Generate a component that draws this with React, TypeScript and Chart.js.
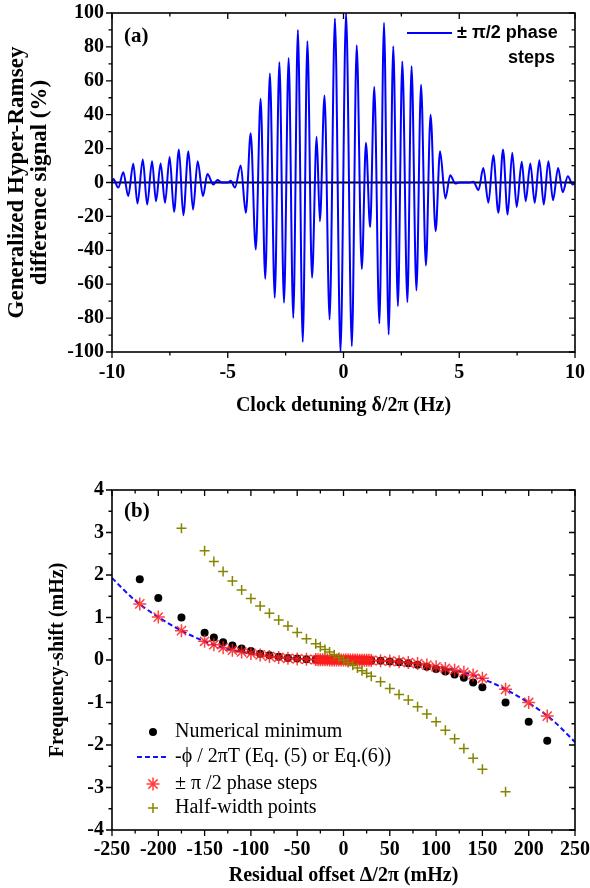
import React, { useEffect, useRef } from 'react';
import { Chart, registerables } from 'chart.js';

Chart.register(...registerables);

const SERIF = '"Liberation Serif", "Times New Roman", serif';
const SANS = '"Liberation Sans", Arial, sans-serif';

// ---------- Panel (a): generalized Hyper-Ramsey difference signal ----------
const signalX = [
  -10, -9.94, -9.73, -9.51, -9.3, -9.08, -8.9, -8.67, -8.48, -8.27, -8.1, -7.9, -7.71, -7.51, -7.32,
  -7.11, -6.92, -6.7, -6.5, -6.3, -6.07, -5.88, -5.62, -5.45, -5.25, -5.0, -4.87, -4.69, -4.44, -4.22,
  -4.01, -3.79, -3.58, -3.38, -3.18, -2.97, -2.77, -2.57, -2.37, -2.17, -1.97, -1.76, -1.56, -1.36,
  -1.16, -1.02, -0.82, -0.6, -0.37, -0.13, 0.11, 0.36, 0.57, 0.79, 0.97, 1.15, 1.33, 1.55, 1.75, 1.95,
  2.15, 2.35, 2.54, 2.76, 2.94, 3.15, 3.35, 3.56, 3.76, 3.98, 4.17, 4.4, 4.61, 4.83, 5.0, 5.45, 5.61,
  5.83, 6.04, 6.26, 6.47, 6.69, 6.89, 7.09, 7.29, 7.48, 7.7, 7.87, 8.07, 8.26, 8.46, 8.65, 8.85, 9.05,
  9.27, 9.47, 9.69, 9.9, 10,
];
const signalY = [
  0.5, 2, -3, 6, -8, 11, -12.4, 13.5, -13, 12.6, -11, 11.2, -12, 15, -17.3,
  19.5, -19.3, 18.5, -16, 12.6, -8, 5, -1.2, 1.5, 0, 0, 1, -3, 10, -17.9,
  29, -39.5, 49.4, -56.8, 64.3, -68, 71, -71, 73.4, -79.9, 90, -94.1, 83.4, -56.2,
  27, -22.8, 51.3, -80.8, 96.8, -100, 100, -96.6, 81, -51, 23.4, -26.3, 56.4, -83.2, 94.2, -89.7,
  80.4, -73, 71.4, -70.6, 68.6, -63.7, 57.6, -49, 40, -28.7, 18.5, -9.4, 4.3, -0.6, 0, 0, 0.5,
  -4.5, 8.6, -12, 16.1, -17.9, 19.5, -18.9, 17.5, -14.4, 12.2, -11, 11.2, -12, 13.2, -13, 12.6, -10.4,
  8.6, -5.7, 3.7, -1.2, 0,
];
const zeroLineX = [-10, 10];
const zeroLineY = [0, 0];

// ---------- Panel (b): frequency shift vs residual offset ----------
const offsetX = [
  -220, -200, -175, -150, -140, -130, -120, -110, -100, -90, -80, -70, -60, -50, -40,
  -30, -27.5, -25, -22.5, -20, -17.5, -15, -12.5, -10, -7.5, -5, -2.5, 0, 2.5, 5, 7.5, 10,
  12.5, 15, 17.5, 20, 22.5, 25, 27.5, 30,
  40, 50, 60, 70, 80, 90, 100, 110, 120, 130, 140, 150, 175, 200, 220,
];
const numericalMinY = [
  1.9, 1.46, 1.0, 0.64, 0.53, 0.42, 0.34, 0.27, 0.21, 0.15, 0.11, 0.075, 0.05, 0.035, 0.02,
  0.012, 0.01, 0.008, 0.006, 0.005, 0.004, 0.003, 0.002, 0.001, 0.001, 0, 0, 0, 0, 0, -0.001, -0.001,
  -0.002, -0.003, -0.004, -0.005, -0.006, -0.008, -0.01, -0.012,
  -0.02, -0.035, -0.05, -0.075, -0.11, -0.16, -0.21, -0.27, -0.34, -0.42, -0.53, -0.64, -1.0, -1.45, -1.9,
];
const phaseStepY = [
  1.32, 1.01, 0.69, 0.44, 0.36, 0.29, 0.23, 0.19, 0.155, 0.12, 0.085, 0.06, 0.04, 0.025, 0.015,
  0.01, 0.008, 0.006, 0.005, 0.004, 0.003, 0.002, 0.001, 0.001, 0, 0, 0, 0, 0, 0, 0, -0.001,
  -0.001, -0.002, -0.003, -0.004, -0.005, -0.006, -0.008, -0.01,
  -0.015, -0.025, -0.04, -0.06, -0.085, -0.12, -0.16, -0.2, -0.24, -0.29, -0.35, -0.43, -0.69, -1.0, -1.32,
];
const halfWidthX = [
  -175, -150, -140, -130, -120, -110, -100, -90, -80, -70, -60, -50, -40,
  -30, -25, -20, -15, -10, -5, 0, 5, 10, 15, 20, 25, 30,
  40, 50, 60, 70, 80, 90, 100, 110, 120, 130, 140, 150, 175,
];
const halfWidthY = [
  3.1, 2.57, 2.32, 2.08, 1.86, 1.65, 1.45, 1.27, 1.1, 0.94, 0.8, 0.65, 0.5,
  0.38, 0.31, 0.25, 0.19, 0.125, 0.06, 0, -0.06, -0.125, -0.19, -0.25, -0.31, -0.38,
  -0.51, -0.67, -0.81, -0.94, -1.1, -1.27, -1.45, -1.65, -1.85, -2.08, -2.31, -2.57, -3.1,
];
const analyticX = [-250, -225, -200, -175, -150, -125, -100, -75, -50, -25, 0, 25, 50, 75, 100, 125, 150, 175, 200, 225, 250];
const analyticY = [1.93, 1.4, 1.01, 0.69, 0.44, 0.26, 0.15, 0.07, 0.03, 0.005, 0, -0.005, -0.03, -0.07, -0.15, -0.26, -0.44, -0.69, -1.01, -1.4, -1.93];

const pts = (xs: number[], ys: number[]) => xs.map((x, i) => ({ x, y: ys[i] }));

// frame with major/minor ticks on all four sides
const framePlugin = {
  id: 'frame',
  afterDatasetsDraw(chart: any, _args: any, opts: any) {
    const { ctx, chartArea } = chart;
    const { left, right, top, bottom } = chartArea;
    const xs = chart.scales.x;
    const ys = chart.scales.y;
    ctx.save();
    ctx.strokeStyle = '#000';
    ctx.lineWidth = 1.6;
    ctx.strokeRect(left, top, right - left, bottom - top);
    ctx.lineWidth = 1.3;
    const nx = Math.round((xs.max - xs.min) / opts.xMinor);
    for (let i = 0; i <= nx; i++) {
      const p = xs.getPixelForValue(xs.min + i * opts.xMinor);
      const L = i % 2 === 0 ? 6 : 3.5;
      ctx.beginPath();
      ctx.moveTo(p, bottom);
      ctx.lineTo(p, bottom + L);
      ctx.moveTo(p, top);
      ctx.lineTo(p, top + L);
      ctx.stroke();
    }
    const ny = Math.round((ys.max - ys.min) / opts.yMinor);
    for (let i = 0; i <= ny; i++) {
      const p = ys.getPixelForValue(ys.min + i * opts.yMinor);
      const L = i % 2 === 0 ? 6 : 3.5;
      ctx.beginPath();
      ctx.moveTo(left, p);
      ctx.lineTo(left - L, p);
      ctx.moveTo(right, p);
      ctx.lineTo(right - L, p);
      ctx.stroke();
    }
    ctx.restore();
  },
};

// panel label + custom legends
const annotPlugin = {
  id: 'annot',
  afterDraw(chart: any, _args: any, opts: any) {
    const { ctx } = chart;
    ctx.save();
    ctx.fillStyle = '#000';
    ctx.textBaseline = 'middle';
    ctx.textAlign = 'left';
    ctx.font = `bold 21px ${SERIF}`;
    ctx.fillText(opts.panel.text, opts.panel.x, opts.panel.y);
    for (const it of opts.items || []) {
      const y = it.y;
      ctx.save();
      if (it.kind === 'line' || it.kind === 'dash') {
        ctx.strokeStyle = it.color;
        ctx.lineWidth = 2;
        if (it.kind === 'dash') ctx.setLineDash([5, 3]);
        ctx.beginPath();
        ctx.moveTo(it.x1, y);
        ctx.lineTo(it.x2, y);
        ctx.stroke();
      } else if (it.kind === 'dot') {
        ctx.fillStyle = it.color;
        ctx.beginPath();
        ctx.arc(it.sx, y, 4, 0, Math.PI * 2);
        ctx.fill();
      } else if (it.kind === 'star') {
        ctx.strokeStyle = it.color;
        ctx.lineWidth = 1.5;
        ctx.beginPath();
        for (let k = 0; k < 4; k++) {
          const a = (k * Math.PI) / 4;
          ctx.moveTo(it.sx - Math.cos(a) * 6.5, y - Math.sin(a) * 6.5);
          ctx.lineTo(it.sx + Math.cos(a) * 6.5, y + Math.sin(a) * 6.5);
        }
        ctx.stroke();
      } else if (it.kind === 'cross') {
        ctx.strokeStyle = it.color;
        ctx.lineWidth = 1.5;
        ctx.beginPath();
        ctx.moveTo(it.sx - 5, y);
        ctx.lineTo(it.sx + 5, y);
        ctx.moveTo(it.sx, y - 5);
        ctx.lineTo(it.sx, y + 5);
        ctx.stroke();
      }
      ctx.restore();
      ctx.fillStyle = '#000';
      ctx.font = it.font;
      ctx.textAlign = 'left';
      ctx.fillText(it.text, it.tx, y);
      if (it.text2) {
        ctx.textAlign = 'right';
        ctx.fillText(it.text2, it.t2x, it.t2y);
      }
    }
    ctx.restore();
  },
};

const tickFont = { family: SERIF, size: 20, weight: 'bold' as const };
const titleFont = { family: SERIF, size: 20, weight: 'bold' as const };

const fitX = (h: number) => (s: any) => {
  s.height = h;
  s.paddingLeft = 0;
  s.paddingRight = 0;
};
const fitY = (w: number) => (s: any) => {
  s.width = w;
  s.paddingTop = 0;
  s.paddingBottom = 0;
};

function makeConfigA(): any {
  return {
    type: 'line',
    data: {
      datasets: [
        {
          data: pts(signalX, signalY),
          borderColor: '#0000ff',
          borderWidth: 2,
          pointRadius: 0,
          cubicInterpolationMode: 'monotone',
          order: 1,
        },
        {
          data: pts(zeroLineX, zeroLineY),
          borderColor: '#000',
          borderWidth: 2,
          pointRadius: 0,
          order: 2,
        },
      ],
    },
    options: {
      animation: false,
      responsive: false,
      devicePixelRatio: 1,
      layout: { padding: { top: 13, right: 15, left: 0, bottom: 0 } },
      plugins: {
        legend: { display: false },
        tooltip: { enabled: false },
        frame: { xMinor: 2.5, yMinor: 10 },
        annot: {
          panel: { text: '(a)', x: 124, y: 37 },
          items: [
            {
              kind: 'line', color: '#0000ff', x1: 407, x2: 452, y: 33,
              text: '± π/2 phase', tx: 457, font: `bold 18px ${SANS}`,
              text2: 'steps', t2x: 555, t2y: 58,
            },
          ],
        },
      },
      scales: {
        x: {
          type: 'linear',
          min: -10,
          max: 10,
          grid: { display: false, drawTicks: false },
          border: { display: false },
          ticks: { stepSize: 5, font: tickFont, color: '#000', padding: 9, maxRotation: 0 },
          title: { display: true, text: 'Clock detuning δ/2π (Hz)', font: titleFont, color: '#000', padding: { top: 0, bottom: 22 } },
          afterFit: fitX(88),
        },
        y: {
          type: 'linear',
          min: -100,
          max: 100,
          grid: { display: false, drawTicks: false },
          border: { display: false },
          ticks: { stepSize: 20, font: tickFont, color: '#000', padding: 8 },
          title: {
            display: true,
            text: ['Generalized Hyper-Ramsey', 'difference signal (%)'],
            font: { family: SERIF, size: 23, weight: 'bold', lineHeight: 1.0 },
            color: '#000',
            padding: { top: 5.5, bottom: 0 },
          },
          afterFit: fitY(112),
        },
      },
    },
    plugins: [framePlugin, annotPlugin],
  };
}

function makeConfigB(): any {
  const legendFont = `20px ${SERIF}`;
  return {
    type: 'line',
    data: {
      datasets: [
        {
          label: 'Half-width points',
          data: pts(halfWidthX, halfWidthY),
          showLine: false,
          pointStyle: 'cross',
          pointRadius: 5,
          pointBorderColor: '#858500',
          pointBorderWidth: 1.5,
          borderColor: '#858500',
          order: 1,
        },
        {
          label: '± π /2 phase steps',
          data: pts(offsetX, phaseStepY),
          showLine: false,
          pointStyle: 'star',
          pointRadius: 6.5,
          pointBorderColor: 'rgba(255,30,30,0.85)',
          pointBorderWidth: 1.5,
          borderColor: 'rgba(255,30,30,0.85)',
          order: 2,
        },
        {
          label: 'Numerical minimum',
          data: pts(offsetX, numericalMinY),
          showLine: false,
          pointStyle: 'circle',
          pointRadius: 4,
          pointBackgroundColor: '#000',
          pointBorderColor: '#000',
          pointBorderWidth: 0,
          order: 3,
        },
        {
          label: '-ϕ / 2πT (Eq. (5) or Eq.(6))',
          data: pts(analyticX, analyticY),
          borderColor: '#1010ff',
          borderWidth: 2,
          borderDash: [5, 3],
          pointRadius: 0,
          cubicInterpolationMode: 'monotone',
          order: 4,
        },
      ],
    },
    options: {
      animation: false,
      responsive: false,
      devicePixelRatio: 1,
      layout: { padding: { top: 50, right: 15, left: 0, bottom: 0 } },
      plugins: {
        legend: { display: false },
        tooltip: { enabled: false },
        frame: { xMinor: 25, yMinor: 0.5 },
        annot: {
          panel: { text: '(b)', x: 124, y: 72 },
          items: [
            { kind: 'dot', color: '#000', sx: 153, y: 292, text: 'Numerical minimum', tx: 175, font: legendFont },
            { kind: 'dash', color: '#1010ff', x1: 137, x2: 168, y: 317, text: '-ϕ / 2πT (Eq. (5) or Eq.(6))', tx: 175, font: legendFont },
            { kind: 'star', color: 'rgba(255,30,30,0.85)', sx: 153, y: 344, text: '± π /2 phase steps', tx: 175, font: legendFont },
            { kind: 'cross', color: '#858500', sx: 153, y: 368, text: 'Half-width points', tx: 175, font: legendFont },
          ],
        },
      },
      scales: {
        x: {
          type: 'linear',
          min: -250,
          max: 250,
          grid: { display: false, drawTicks: false },
          border: { display: false },
          ticks: { stepSize: 50, font: tickFont, color: '#000', padding: 8, maxRotation: 0 },
          title: { display: true, text: 'Residual offset Δ/2π (mHz)', font: titleFont, color: '#000', padding: { top: 0, bottom: 0 } },
          afterFit: fitX(58),
        },
        y: {
          type: 'linear',
          min: -4,
          max: 4,
          grid: { display: false, drawTicks: false },
          border: { display: false },
          ticks: { stepSize: 1, font: tickFont, color: '#000', padding: 8 },
          title: { display: true, text: 'Frequency-shift (mHz)', font: titleFont, color: '#000', padding: { top: 46, bottom: 0 } },
          afterFit: fitY(112),
        },
      },
    },
    plugins: [framePlugin, annotPlugin],
  };
}

export default function App() {
  const refA = useRef<HTMLCanvasElement>(null);
  const refB = useRef<HTMLCanvasElement>(null);
  useEffect(() => {
    const ca = new Chart(refA.current as HTMLCanvasElement, makeConfigA());
    const cb = new Chart(refB.current as HTMLCanvasElement, makeConfigB());
    return () => {
      ca.destroy();
      cb.destroy();
    };
  }, []);
  return (
    <div style={{ position: 'absolute', left: 0, top: 0, width: 590, height: 888, background: '#fff' }}>
      <canvas ref={refA} width={590} height={440} style={{ position: 'absolute', left: 0, top: 0 }} />
      <canvas ref={refB} width={590} height={448} style={{ position: 'absolute', left: 0, top: 440 }} />
    </div>
  );
}
